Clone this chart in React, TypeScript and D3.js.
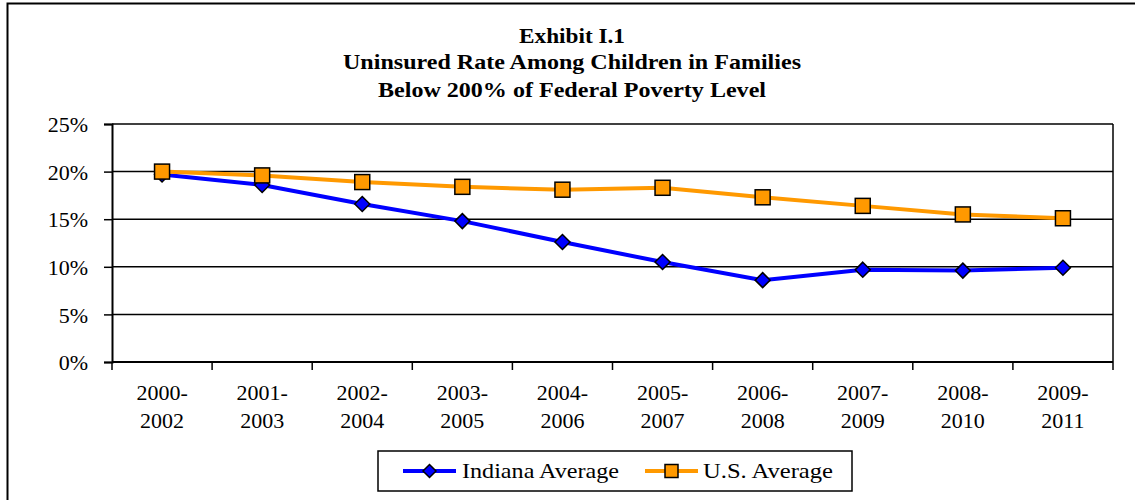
import React, { useEffect, useRef } from "react";
import * as d3 from "d3";

// data
const periods = [
  ["2000-", "2002"], ["2001-", "2003"], ["2002-", "2004"], ["2003-", "2005"], ["2004-", "2006"],
  ["2005-", "2007"], ["2006-", "2008"], ["2007-", "2009"], ["2008-", "2010"], ["2009-", "2011"],
];
const indiana = [19.7, 18.6, 16.6, 14.8, 12.6, 10.5, 8.6, 9.7, 9.6, 9.9];
const usAverage = [20.0, 19.6, 18.9, 18.4, 18.1, 18.3, 17.3, 16.4, 15.5, 15.1];
const yTicks = [0, 5, 10, 15, 20, 25];
const titleLines = ["Exhibit I.1", "Uninsured Rate Among Children in Families", "Below 200% of Federal Poverty Level"];
const seriesNames = ["Indiana Average", "U.S. Average"];

const BLUE = "#0000FF";
const ORANGE = "#FF9900";
const FONT = "'Liberation Serif', 'Times New Roman', serif";

const App = () => {
  const container = useRef<HTMLDivElement>(null);

  useEffect(() => {
    const el = container.current;
    if (!el) return;
    el.innerHTML = "";

    const W = 1135, H = 500;
    const margin = { top: 124, left: 112, right: 22, bottom: 138 };
    const width = W - margin.left - margin.right;
    const height = H - margin.top - margin.bottom;

    const svg = d3.select(el).append("svg")
      .attr("width", W)
      .attr("height", H)
      .style("position", "absolute")
      .style("left", 0)
      .style("top", 0)
      .style("font-family", FONT);

    svg.append("rect").attr("width", W).attr("height", H).attr("fill", "#fff");

    // outer frame (runs off the bottom/right of the picture)
    svg.append("path")
      .attr("d", `M7.5,${H + 5} V3.5 H${W + 5}`)
      .attr("fill", "none")
      .attr("stroke", "#000")
      .attr("stroke-width", 2);

    // title - the original type is set a bit wider than Liberation Serif
    const title = svg.append("text")
      .attr("text-anchor", "middle")
      .attr("font-weight", "bold")
      .attr("font-size", 21)
      .attr("fill", "#000");
    const titleWidths = [106, 458, 388];
    titleLines.forEach((t, i) => {
      title.append("tspan")
        .attr("x", 572)
        .attr("y", [43, 69, 97][i])
        .attr("textLength", titleWidths[i])
        .attr("lengthAdjust", "spacingAndGlyphs")
        .text(t);
    });

    const g = svg.append("g").attr("transform", `translate(${margin.left},${margin.top})`);

    const x = d3.scaleBand<number>()
      .domain(d3.range(periods.length))
      .range([0, width]);

    const y = d3.scaleLinear().domain([0, 25]).range([height, 0]);

    // gridlines
    g.append("g").selectAll("line")
      .data(yTicks.filter((d) => d > 0))
      .enter().append("line")
      .attr("x1", 0).attr("x2", width)
      .attr("y1", (d) => y(d)).attr("y2", (d) => y(d))
      .attr("stroke", "#000")
      .attr("stroke-width", 1.5);

    // right border
    g.append("line")
      .attr("x1", width).attr("x2", width)
      .attr("y1", 0).attr("y2", height)
      .attr("stroke", "#000").attr("stroke-width", 1.5);

    // y axis
    const yAxis = g.append("g")
      .call(d3.axisLeft(y).tickValues(yTicks).tickSize(8).tickPadding(16).tickFormat((d) => `${d}%`));
    yAxis.select(".domain").attr("stroke-width", 2);
    yAxis.selectAll(".tick line").attr("stroke-width", 1.5);
    yAxis.selectAll("text")
      .attr("font-family", FONT)
      .attr("font-size", 22)
      .attr("fill", "#000")
      .attr("dy", "0.35em");

    // x axis
    const xAxis = g.append("g").attr("transform", `translate(0,${height})`);
    xAxis.append("line")
      .attr("x1", 0).attr("x2", width)
      .attr("stroke", "#000").attr("stroke-width", 2);
    xAxis.selectAll(".xt")
      .data(d3.range(periods.length + 1))
      .enter().append("line")
      .attr("x1", (d) => d * x.step()).attr("x2", (d) => d * x.step())
      .attr("y1", 0).attr("y2", 8)
      .attr("stroke", "#000").attr("stroke-width", 1.5);
    const xl = xAxis.selectAll(".xl")
      .data(periods)
      .enter().append("text")
      .attr("text-anchor", "middle")
      .attr("font-size", 22)
      .attr("fill", "#000");
    xl.append("tspan")
      .attr("x", (d, i) => (x(i) as number) + x.bandwidth() / 2)
      .attr("y", 38)
      .text((d) => d[0]);
    xl.append("tspan")
      .attr("x", (d, i) => (x(i) as number) + x.bandwidth() / 2)
      .attr("y", 66)
      .text((d) => d[1]);

    const cx = (i: number) => (x(i) as number) + x.bandwidth() / 2;
    const line = d3.line<number>().x((d, i) => cx(i)).y((d) => y(d));

    const diamond = (s: number) => `M0,${-s}L${s},0L0,${s}L${-s},0Z`;

    // Indiana
    g.append("path").datum(indiana)
      .attr("d", line)
      .attr("fill", "none")
      .attr("stroke", BLUE)
      .attr("stroke-width", 4);
    g.selectAll(".ind")
      .data(indiana)
      .enter().append("path")
      .attr("transform", (d, i) => `translate(${cx(i)},${y(d)})`)
      .attr("d", diamond(7.5))
      .attr("fill", BLUE)
      .attr("stroke", "#000")
      .attr("stroke-width", 1.5);

    // US
    g.append("path").datum(usAverage)
      .attr("d", line)
      .attr("fill", "none")
      .attr("stroke", ORANGE)
      .attr("stroke-width", 4);
    g.selectAll(".us")
      .data(usAverage)
      .enter().append("rect")
      .attr("x", (d, i) => cx(i) - 7.5)
      .attr("y", (d) => y(d) - 7.5)
      .attr("width", 15)
      .attr("height", 15)
      .attr("fill", ORANGE)
      .attr("stroke", "#000")
      .attr("stroke-width", 1.5);

    // legend
    const lg = svg.append("g").attr("transform", "translate(378,451)");
    lg.append("rect")
      .attr("width", 474).attr("height", 40)
      .attr("fill", "#fff").attr("stroke", "#000").attr("stroke-width", 1.5);
    const items = [
      { name: seriesNames[0], color: BLUE, x0: 25, tx: 84, tw: 157, shape: "diamond" },
      { name: seriesNames[1], color: ORANGE, x0: 267, tx: 325, tw: 130, shape: "square" },
    ];
    items.forEach((it) => {
      lg.append("line")
        .attr("x1", it.x0).attr("x2", it.x0 + 53)
        .attr("y1", 20).attr("y2", 20)
        .attr("stroke", it.color).attr("stroke-width", 4);
      if (it.shape === "diamond") {
        lg.append("path")
          .attr("transform", `translate(${it.x0 + 26.5},20)`)
          .attr("d", diamond(6.5))
          .attr("fill", it.color).attr("stroke", "#000").attr("stroke-width", 1.5);
      } else {
        lg.append("rect")
          .attr("x", it.x0 + 20).attr("y", 13.5)
          .attr("width", 13).attr("height", 13)
          .attr("fill", it.color).attr("stroke", "#000").attr("stroke-width", 1.5);
      }
      lg.append("text")
        .attr("x", it.tx).attr("y", 27)
        .attr("font-size", 22)
        .attr("textLength", it.tw)
        .attr("lengthAdjust", "spacingAndGlyphs")
        .attr("fill", "#000")
        .text(it.name);
    });
  }, []);

  return <div ref={container}></div>;
};

export default App;
